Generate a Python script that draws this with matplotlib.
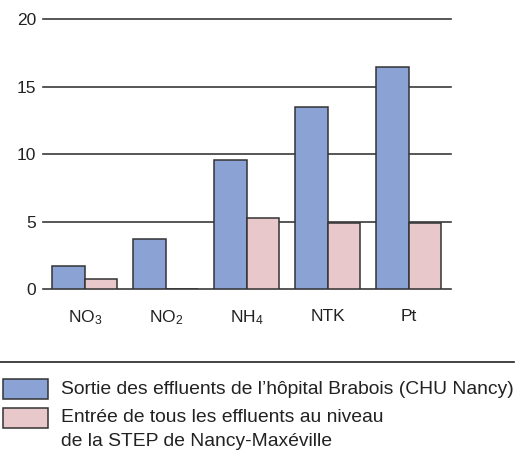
import matplotlib
matplotlib.use("Agg")
import matplotlib.pyplot as plt
import numpy as np
from matplotlib.patches import Rectangle
from matplotlib.lines import Line2D

plt.rcParams['font.family'] = ['Liberation Sans', 'DejaVu Sans']
plt.rcParams['mathtext.fontset'] = 'custom'
plt.rcParams['mathtext.rm'] = 'Liberation Sans'

categories = [r'NO$\mathregular{_3}$', r'NO$\mathregular{_2}$', r'NH$\mathregular{_4}$', 'NTK', 'Pt']
hopital = [1.7, 3.7, 9.6, 13.5, 16.5]
step = [0.8, 0.0, 5.3, 4.9, 4.9]
yticks = [0, 5, 10, 15, 20]
legend_labels = ["Sortie des effluents de l\u2019h\u00f4pital Brabois (CHU Nancy)",
                 "Entr\u00e9e de tous les effluents au niveau\nde la STEP de Nancy-Max\u00e9ville"]

blue = '#8ba3d4'
pink = '#e8c8cb'
edge = '#333333'
txt = '#222222'

W, H = 517, 470
fig = plt.figure(figsize=(W/100, H/100), dpi=100)
ax = fig.add_axes([42.7/W, 1-289.3/H, (451-42.7)/W, (289.3-19.5)/H])

x = np.arange(len(categories))
w = 0.4
ax.bar(x - w/2, hopital, width=w, color=blue, edgecolor=edge, linewidth=1.1, zorder=3)
ax.bar(x + w/2, step, width=w, color=pink, edgecolor=edge, linewidth=1.1, zorder=3)

for yv in yticks:
    ax.axhline(yv, color='#3a3a3a', linewidth=1.2, zorder=1, clip_on=False)

ax.set_xlim(-0.52, 4.52)
ax.set_ylim(0, 20)
ax.set_yticks(yticks)
ax.set_xticks(x)
ax.set_xticklabels(categories)
for s in ax.spines.values():
    s.set_visible(False)
ax.tick_params(axis='y', length=0, pad=4.5, labelsize=12.5, labelcolor=txt)
ax.tick_params(axis='x', length=0, pad=14, labelsize=12.5, labelcolor=txt)

# legend area
fig.add_artist(Line2D([0, 514/W], [1-361.7/H, 1-361.7/H], transform=fig.transFigure,
                      color='#222222', linewidth=1.2))
fig.add_artist(Rectangle((3/W, 1-399/H), 45/W, 19.7/H, transform=fig.transFigure,
                         facecolor=blue, edgecolor=edge, linewidth=1.1))
fig.add_artist(Rectangle((3/W, 1-427.7/H), 45/W, 19.7/H, transform=fig.transFigure,
                         facecolor=pink, edgecolor=edge, linewidth=1.1))
fs = 13.85
fig.text(61/W, 1-390/H, legend_labels[0], ha='left', va='center', fontsize=fs, color=txt)
l1, l2 = legend_labels[1].split('\n')
fig.text(61/W, 1-418/H, l1, ha='left', va='center', fontsize=fs, color=txt)
fig.text(61/W, 1-441.7/H, l2, ha='left', va='center', fontsize=fs, color=txt)

fig.savefig('out.png', dpi=100)
